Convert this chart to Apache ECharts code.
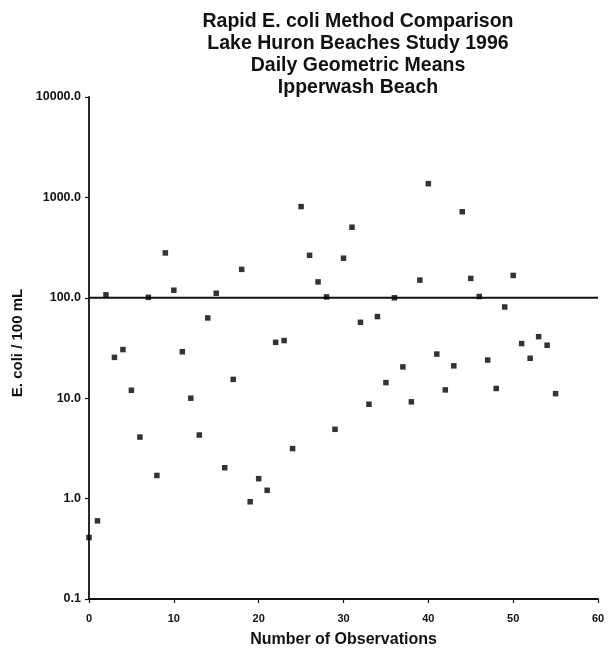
<!DOCTYPE html>
<html>
<head>
<meta charset="utf-8">
<script src="https://cdn.jsdelivr.net/npm/echarts@6/dist/echarts.min.js"></script>
<style>html,body{margin:0;padding:0;background:#fff;}#c{width:613px;height:654px;}</style>
</head>
<body>
<div id="c"></div>
<script>
const titleLines = ["Rapid E. coli Method Comparison", "Lake Huron Beaches Study 1996", "Daily Geometric Means", "Ipperwash Beach"];
const xName = "Number of Observations";
const yName = "E. coli / 100 mL";
const observations = [0,1,2,3,4,5,6,7,8,9,10,11,12,13,14,15,16,17,18,19,20,21,22,23,24,25,26,27,28,29,30,31,32,33,34,35,36,37,38,39,40,41,42,43,44,45,46,47,48,49,50,51,52,53,54,55];
const eColi = [0.41,0.6,107,25.5,30.5,12,4.1,101,1.7,280,119,29,10,4.3,63,111,2.03,15.4,192,0.93,1.58,1.21,36,37.5,3.15,810,265,144,102,4.9,248,505,57,8.7,65,14.3,100,20.5,9.2,150,1370,27.5,12.1,21,720,156,103,24,12.5,81,167,35,25,41,33.7,11.1];
const refX = [0, 60];
const refY = [100, 100];
const xTicks = [0,10,20,30,40,50,60];
const yTicks = [0.1,1,10,100,1000,10000];

const FONT = 'Liberation Sans, Arial, sans-serif';
const chart = echarts.init(document.getElementById('c'), null, {renderer:'canvas'});
chart.setOption({
  animation:false,
  backgroundColor:'#fff',
  title:{
    text: titleLines.join('\n'),
    left: 353, top: 5, textAlign:'center',
    textStyle:{fontFamily:FONT, fontWeight:'bold', fontSize:19.5, lineHeight:22.3, color:'#111'}
  },
  grid:{left:89, right:15, top:97, bottom:55, containLabel:false},
  xAxis:{
    type:'value', min:xTicks[0], max:xTicks[xTicks.length-1], interval:10,
    name:xName, nameLocation:'middle', nameGap:33,
    nameTextStyle:{fontFamily:FONT, fontWeight:'bold', fontSize:16, color:'#111'},
    axisLine:{show:true, onZero:false, lineStyle:{color:'#111', width:1.8}},
    axisTick:{show:true, length:4, lineStyle:{color:'#111', width:1.2}},
    axisLabel:{fontFamily:FONT, fontWeight:'bold', fontSize:11, color:'#111', margin:14},
    splitLine:{show:false}
  },
  yAxis:{
    type:'log', logBase:10, min:yTicks[0], max:yTicks[yTicks.length-1],
    name:yName, nameLocation:'middle', nameGap:60, nameRotate:90,
    nameTextStyle:{fontFamily:FONT, fontWeight:'bold', fontSize:15, color:'#111', padding:[0,0,0,10]},
    axisLine:{show:true, lineStyle:{color:'#111', width:1.8}},
    axisTick:{show:true, length:4, lineStyle:{color:'#111', width:1.2}},
    axisLabel:{fontFamily:FONT, fontWeight:'bold', fontSize:12.5, color:'#111', margin:8,
      formatter: v => Number(v).toFixed(1)},
    splitLine:{show:false}
  },
  series:[
    {type:'line', data: refX.map((x,i)=>[x, refY[i]]), symbol:'none',
     lineStyle:{color:'#111', width:2}, silent:true, z:1},
    {type:'scatter', data: observations.map((x,i)=>[x, eColi[i]]),
     symbol:'rect', symbolSize:5.5, itemStyle:{color:'#000'}, z:2}
  ]
});
</script>
</body>
</html>
